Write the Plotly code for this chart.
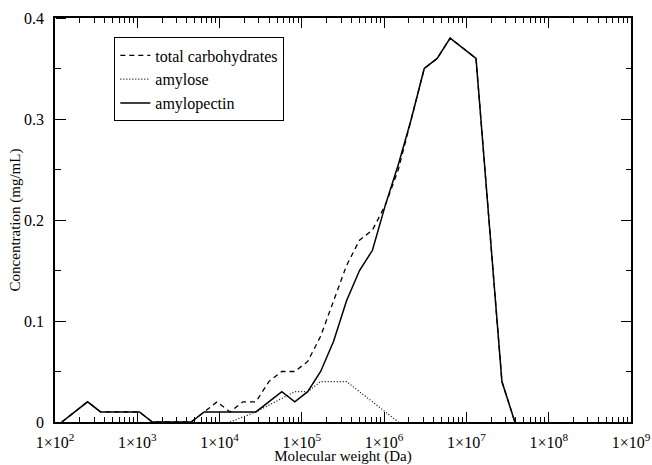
import plotly.graph_objects as go

# Molecular weight (Da) and concentration (mg/mL) vertices
mw_total = [121, 249, 358, 1061, 1524, 4518, 6493, 9324, 13397, 19245, 27650, 39720,
            57070, 81980, 117800, 169200, 243100, 349300, 501800, 720900, 1036000,
            1488000, 2138000, 3071000, 4413000, 6339000, 13080000, 27000000, 38790000]
conc_total = [0, 0.02, 0.01, 0.01, 0, 0, 0.01, 0.02, 0.01, 0.02, 0.02, 0.04,
              0.05, 0.05, 0.06, 0.085, 0.12, 0.155, 0.18, 0.19, 0.215,
              0.25, 0.30, 0.35, 0.36, 0.38, 0.36, 0.04, 0]

mw_amylose = [13397, 27650, 81980, 117800, 169200, 349300, 1488000]
conc_amylose = [0, 0.01, 0.03, 0.03, 0.04, 0.04, 0]

mw_amylopectin = [121, 249, 358, 1061, 1524, 4518, 6493, 27650, 57070, 81980, 117800,
                  169200, 243100, 349300, 501800, 720900, 1036000, 1488000, 2138000,
                  3071000, 4413000, 6339000, 13080000, 27000000, 38790000]
conc_amylopectin = [0, 0.02, 0.01, 0.01, 0, 0, 0.01, 0.01, 0.03, 0.02, 0.03,
                    0.05, 0.08, 0.12, 0.15, 0.17, 0.215, 0.255, 0.30,
                    0.35, 0.36, 0.38, 0.36, 0.04, 0]

x_tickvals = [1e2, 1e3, 1e4, 1e5, 1e6, 1e7, 1e8, 1e9]
x_ticktext = ["1×10<sup>2</sup>", "1×10<sup>3</sup>", "1×10<sup>4</sup>", "1×10<sup>5</sup>",
              "1×10<sup>6</sup>", "1×10<sup>7</sup>", "1×10<sup>8</sup>", "1×10<sup>9</sup>"]
x_minor = [m * 10 ** e for e in range(2, 9) for m in range(2, 10)]
y_tickvals = [0, 0.1, 0.2, 0.3, 0.4]
y_ticktext = ["0", "0.1", "0.2", "0.3", "0.4"]
y_minor = [0.05, 0.15, 0.25, 0.35]

FONT = "Liberation Serif"
X_RANGE = [2, 9]
Y_RANGE = [0, 0.4]

fig = go.Figure()
fig.add_trace(go.Scatter(x=mw_total, y=conc_total, mode="lines", name="total carbohydrates",
                         line=dict(color="black", width=1.3, dash="5px,4px")))
fig.add_trace(go.Scatter(x=mw_amylose, y=conc_amylose, mode="lines", name="amylose",
                         line=dict(color="black", width=1.2, dash="1px,2px")))
fig.add_trace(go.Scatter(x=mw_amylopectin, y=conc_amylopectin, mode="lines", name="amylopectin",
                         line=dict(color="black", width=1.5)))
# empty traces that hold the tick-only overlay axes
fig.add_trace(go.Scatter(x=[], y=[], xaxis="x2", yaxis="y2", showlegend=False, hoverinfo="skip"))
fig.add_trace(go.Scatter(x=[], y=[], xaxis="x", yaxis="y3", showlegend=False, hoverinfo="skip"))
fig.add_trace(go.Scatter(x=[], y=[], xaxis="x", yaxis="y4", showlegend=False, hoverinfo="skip"))

common = dict(showgrid=False, zeroline=False, automargin=False, tickcolor="black",
              tickwidth=1.2, ticks="inside", mirror="ticks", showline=True,
              linecolor="black", linewidth=1.5)
left_ticks = dict(showgrid=False, zeroline=False, automargin=False, tickcolor="black",
                  tickwidth=1.2, ticks="outside", showline=False, showticklabels=False,
                  overlaying="y", anchor="free", position=0, side="right",
                  range=Y_RANGE, tickmode="array")

fig.update_layout(
    width=652, height=465,
    margin=dict(l=55, r=21, t=18, b=43),
    paper_bgcolor="white", plot_bgcolor="white",
    font=dict(family=FONT, size=16, color="black"),
    showlegend=True,
    legend=dict(x=0.103, y=0.952, xanchor="left", yanchor="top",
                bordercolor="black", borderwidth=1, bgcolor="white",
                font=dict(family=FONT, size=16), tracegroupgap=0,
                itemwidth=30),
    xaxis=dict(type="log", range=X_RANGE, tickmode="array", tickvals=x_tickvals,
               ticktext=x_ticktext, ticklen=10, ticklabelstandoff=5,
               title=dict(text="Molecular weight (Da)", font=dict(size=15), standoff=0),
               tickfont=dict(size=16), **common),
    yaxis=dict(range=Y_RANGE, tickmode="array", tickvals=y_tickvals, ticktext=y_ticktext,
               ticklen=10, ticklabelstandoff=6,
               title=dict(text="Concentration (mg/mL)", font=dict(size=15), standoff=0),
               tickfont=dict(size=16), **common),
    xaxis2=dict(type="log", range=X_RANGE, overlaying="x", anchor="y2", side="bottom",
                tickmode="array", tickvals=x_minor, ticklen=5, showticklabels=False,
                **common),
    yaxis2=dict(range=Y_RANGE, overlaying="y", anchor="x2", side="left",
                tickmode="array", tickvals=y_minor, ticklen=5, showticklabels=False,
                **common),
    yaxis3=dict(tickvals=y_tickvals, ticklen=10, **left_ticks),
    yaxis4=dict(tickvals=y_minor, ticklen=5, **left_ticks),
)

fig.write_html("out.html", post_script="document.body.style.margin='0px';",
               config={"displayModeBar": False})
